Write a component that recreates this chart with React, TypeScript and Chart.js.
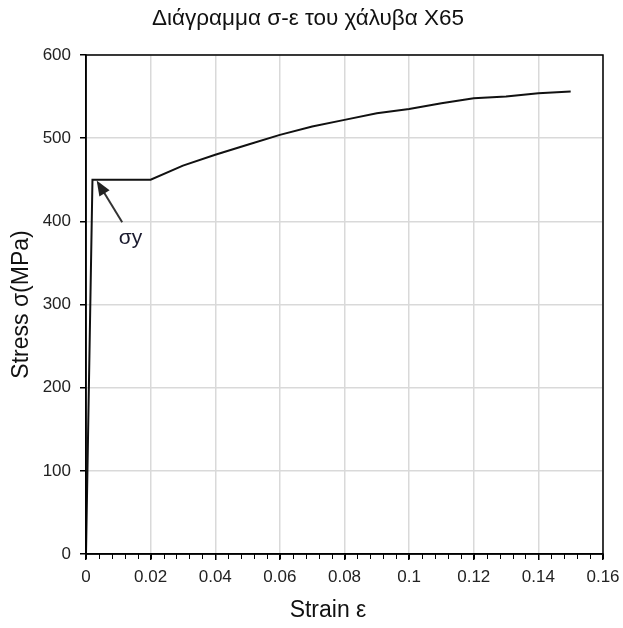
import React, { useEffect, useRef } from "react";
import { Chart, registerables } from "chart.js";

Chart.register(...registerables);

const chartTitle = "Διάγραμμα σ-ε του χάλυβα X65";
const xAxisTitle = "Strain ε";
const yAxisTitle = "Stress σ(MPa)";

const strain = [0, 0.002, 0.02, 0.03, 0.04, 0.05, 0.06, 0.07, 0.08, 0.09, 0.1, 0.11, 0.12, 0.13, 0.14, 0.15];
const stress = [0, 450, 450, 467, 480, 492, 504, 514, 522, 530, 535, 542, 548, 550, 554, 556];

const xMin = 0;
const xMax = 0.16;
const xStep = 0.02;
const xMinorStep = 0.004;
const yMin = 0;
const yMax = 600;
const yStep = 100;

// annotation: label and arrow (data coordinates)
const annotationLabel = "σy";
const arrowTip = [0.0033, 449];
const arrowTail = [0.0112, 399];
const labelPos = [0.0138, 380];

const FONT = "'Liberation Sans', Arial, sans-serif";

export default function App() {
  const canvasRef = useRef<HTMLCanvasElement | null>(null);

  useEffect(() => {
    const canvas = canvasRef.current;
    if (!canvas) return;

    const decorPlugin = {
      id: "decor",
      afterDraw(chart: any) {
        const ctx = chart.ctx;
        const ca = chart.chartArea;
        const xs = chart.scales.x;
        const ys = chart.scales.y;
        ctx.save();
        // plot border
        ctx.strokeStyle = "#000";
        ctx.lineWidth = 1.5;
        ctx.strokeRect(ca.left, ca.top, ca.right - ca.left, ca.bottom - ca.top);
        // minor ticks on x axis
        ctx.lineWidth = 1;
        const n = Math.round((xMax - xMin) / xMinorStep);
        for (let i = 0; i <= n; i++) {
          const v = xMin + i * xMinorStep;
          const px = Math.round(xs.getPixelForValue(v)) + 0.5;
          ctx.beginPath();
          ctx.moveTo(px, ca.bottom);
          ctx.lineTo(px, ca.bottom + 5);
          ctx.stroke();
        }
        // annotation arrow
        const tx = xs.getPixelForValue(arrowTip[0]);
        const ty = ys.getPixelForValue(arrowTip[1]);
        const sx = xs.getPixelForValue(arrowTail[0]);
        const sy = ys.getPixelForValue(arrowTail[1]);
        const ang = Math.atan2(ty - sy, tx - sx);
        const headLen = 15;
        const headW = 6;
        ctx.strokeStyle = "#333";
        ctx.fillStyle = "#222";
        ctx.lineWidth = 2;
        ctx.beginPath();
        ctx.moveTo(sx, sy);
        ctx.lineTo(tx - Math.cos(ang) * headLen * 0.8, ty - Math.sin(ang) * headLen * 0.8);
        ctx.stroke();
        ctx.beginPath();
        ctx.moveTo(tx, ty);
        ctx.lineTo(
          tx - Math.cos(ang) * headLen + Math.sin(ang) * headW,
          ty - Math.sin(ang) * headLen - Math.cos(ang) * headW
        );
        ctx.lineTo(
          tx - Math.cos(ang) * headLen - Math.sin(ang) * headW,
          ty - Math.sin(ang) * headLen + Math.cos(ang) * headW
        );
        ctx.closePath();
        ctx.fill();
        // annotation label
        ctx.fillStyle = "#1a1a2e";
        ctx.font = `21px ${FONT}`;
        ctx.textAlign = "center";
        ctx.textBaseline = "middle";
        ctx.fillText(annotationLabel, xs.getPixelForValue(labelPos[0]), ys.getPixelForValue(labelPos[1]));
        // chart title
        ctx.fillStyle = "#111";
        ctx.font = `22.5px ${FONT}`;
        ctx.fillText(chartTitle, 308, 19);
        // x axis title
        ctx.font = `23px ${FONT}`;
        ctx.fillText(xAxisTitle, 328, 611);
        // y axis title
        ctx.translate(22, (ca.top + ca.bottom) / 2);
        ctx.rotate(-Math.PI / 2);
        ctx.fillText(yAxisTitle, 0, 0);
        ctx.restore();
      },
    };

    const chart = new Chart(canvas, {
      type: "line",
      data: {
        datasets: [
          {
            data: strain.map((x, i) => ({ x, y: stress[i] })),
            borderColor: "#111",
            borderWidth: 2,
            pointRadius: 0,
            tension: 0,
            fill: false,
          },
        ],
      },
      options: {
        responsive: false,
        animation: false,
        layout: { padding: { top: 55, right: 20, left: 0, bottom: 0 } },
        plugins: {
          legend: { display: false },
          tooltip: { enabled: false },
          title: { display: false },
        },
        scales: {
          x: {
            type: "linear",
            min: xMin,
            max: xMax,
            afterFit: (scale: any) => {
              scale.height = 74;
              scale.paddingLeft = 0;
              scale.paddingRight = 0;
            },
            ticks: {
              stepSize: xStep,
              color: "#222",
              font: { family: FONT, size: 17 },
              padding: 7,
              maxRotation: 0,
              callback: (v: any) => String(Number(Number(v).toFixed(3))),
            },
            grid: {
              color: "#d9d9d9",
              lineWidth: 1.5,
              tickLength: 6,
              tickColor: "#000",
            },
            border: { color: "#000", width: 1.5 },
          },
          y: {
            type: "linear",
            min: yMin,
            max: yMax,
            afterFit: (scale: any) => {
              scale.width = 86;
              scale.paddingTop = 0;
              scale.paddingBottom = 0;
            },
            ticks: {
              stepSize: yStep,
              color: "#222",
              font: { family: FONT, size: 17 },
              padding: 9,
            },
            grid: {
              color: "#d9d9d9",
              lineWidth: 1.5,
              tickLength: 6,
              tickColor: "#000",
            },
            border: { color: "#000", width: 1.5 },
          },
        },
      },
      plugins: [decorPlugin],
    } as any);

    return () => chart.destroy();
  }, []);

  return (
    <div style={{ position: "fixed", left: 0, top: 0, width: 623, height: 628, background: "#fff" }}>
      <canvas ref={canvasRef} width={623} height={628} style={{ display: "block" }} />
    </div>
  );
}
